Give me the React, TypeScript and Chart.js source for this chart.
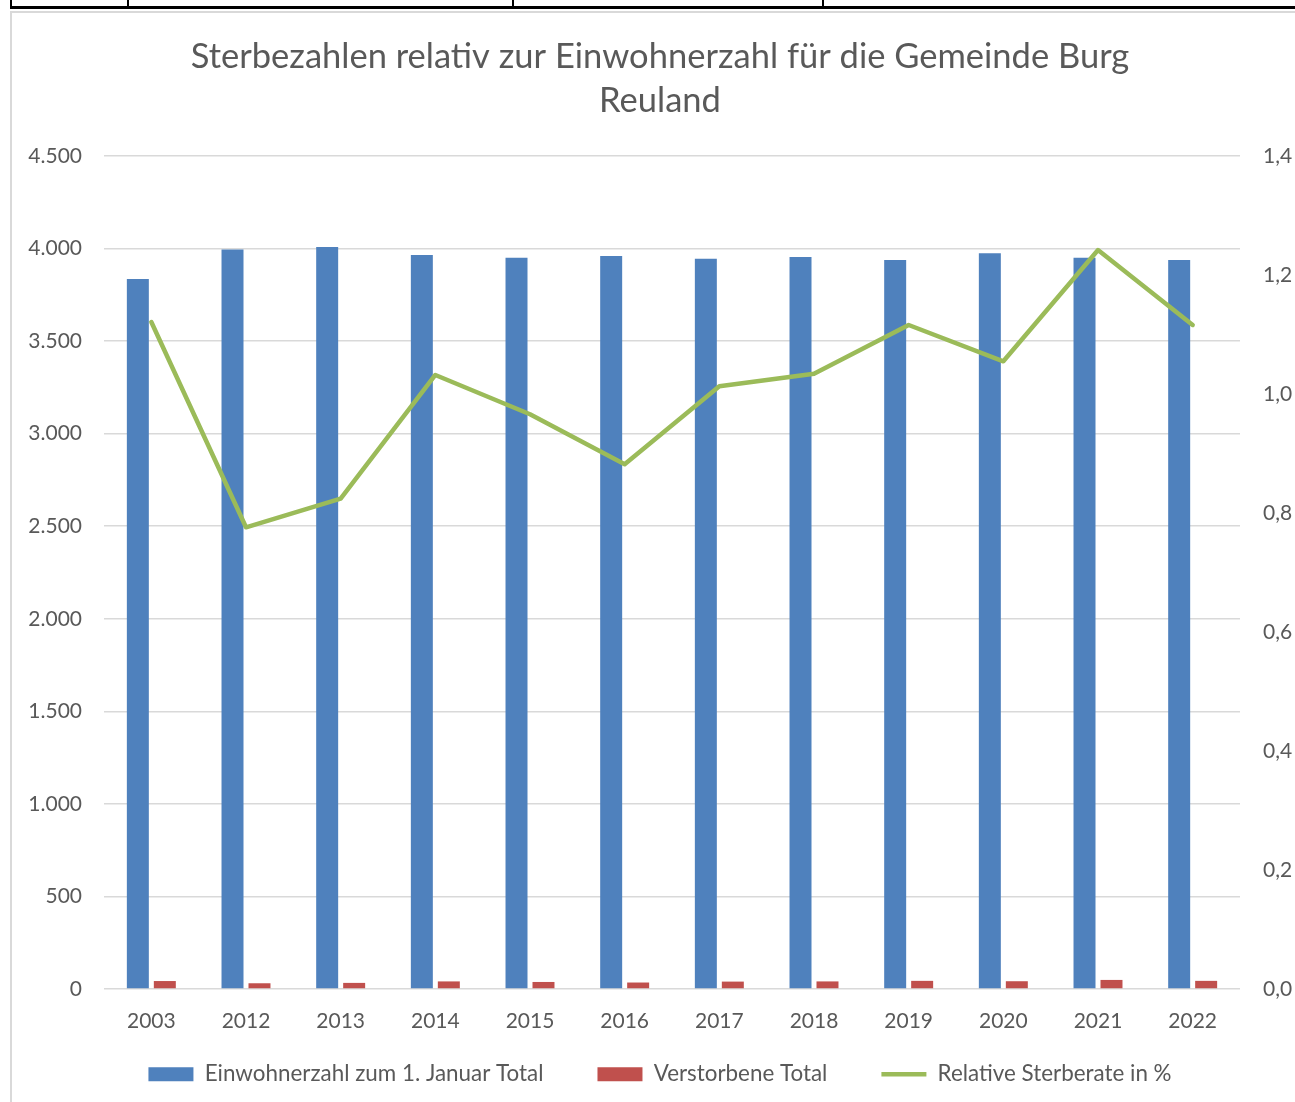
import { useEffect, useRef } from 'react';
import { Chart, registerables } from 'chart.js';

Chart.register(...registerables);

const categories = ['2003', '2012', '2013', '2014', '2015', '2016', '2017', '2018', '2019', '2020', '2021', '2022'];
const population = [3836, 3995, 4008, 3965, 3950, 3960, 3945, 3955, 3938, 3975, 3950, 3938];
const deaths = [43, 31, 33, 41, 38, 35, 40, 41, 44, 42, 49, 44];
const rate = [1.121, 0.776, 0.824, 1.032, 0.966, 0.882, 1.013, 1.034, 1.116, 1.055, 1.242, 1.116];

const titleLines = ['Sterbezahlen relativ zur Einwohnerzahl für die Gemeinde Burg', 'Reuland'];
const seriesNames = ['Einwohnerzahl zum 1. Januar Total', 'Verstorbene Total', 'Relative Sterberate in %'];

const TEXT = '#595959';
const FONT = 'Lato';

function fmtThousands(v: number) {
  const s = Math.round(v).toString();
  return s.replace(/\B(?=(\d{3})+(?!\d))/g, '.');
}

// moves the top of the bottom legend up so its row sits closer to the axis labels
const legendShift = {
  id: 'legendShift',
  afterLayout(chart: any) {
    const lg = chart.legend;
    if (lg) {
      lg.top -= 26;
      lg.height += 26;
    }
  },
};

export default function App() {
  const ref = useRef<HTMLCanvasElement>(null);

  useEffect(() => {
    if (!ref.current) return;
    const chart = new Chart(ref.current, {
      type: 'bar',
      plugins: [legendShift],
      data: {
        labels: categories,
        datasets: [
          {
            type: 'bar',
            label: seriesNames[0],
            data: population,
            backgroundColor: '#4F81BD',
            borderWidth: 0,
            yAxisID: 'y',
            order: 2,
            pointStyle: 'rect',
          } as any,
          {
            type: 'bar',
            label: seriesNames[1],
            data: deaths,
            backgroundColor: '#C0504D',
            borderWidth: 0,
            yAxisID: 'y',
            order: 2,
            pointStyle: 'rect',
          } as any,
          {
            type: 'line',
            label: seriesNames[2],
            data: rate,
            borderColor: '#9BBB59',
            backgroundColor: '#9BBB59',
            borderWidth: 4.5,
            pointRadius: 0,
            pointHoverRadius: 0,
            tension: 0,
            borderJoinStyle: 'round',
            borderCapStyle: 'round',
            yAxisID: 'y1',
            order: 1,
            pointStyle: 'line',
          } as any,
        ],
      },
      options: {
        responsive: false,
        animation: false,
        layout: { padding: { left: 13, right: 0, top: 0, bottom: 0 } },
        datasets: {
          bar: { categoryPercentage: 0.57, barPercentage: 0.815 },
        },
        scales: {
          x: {
            grid: { display: false },
            border: { display: false },
            ticks: { color: TEXT, font: { family: FONT, size: 21 }, padding: 12, maxRotation: 0 },
            afterFit: (s: any) => { s.height = 46; },
          },
          y: {
            position: 'left',
            min: 0,
            max: 4500,
            grid: { color: '#d9d9d9', lineWidth: 1.5, drawTicks: false },
            border: { display: false },
            ticks: {
              stepSize: 500,
              color: TEXT,
              font: { family: FONT, size: 21 },
              padding: 22,
              callback: (v: any) => fmtThousands(Number(v)),
            },
            afterFit: (s: any) => { s.width = 79; },
          },
          y1: {
            position: 'right',
            min: 0,
            max: 1.4,
            grid: { display: false, drawTicks: false },
            border: { display: false },
            ticks: {
              stepSize: 0.2,
              color: TEXT,
              font: { family: FONT, size: 21 },
              padding: 23,
              callback: (v: any) => Number(v).toFixed(1).replace('.', ','),
            },
            afterFit: (s: any) => { s.width = 55; },
          },
        },
        plugins: {
          tooltip: { enabled: false },
          title: {
            display: true,
            text: titleLines,
            color: TEXT,
            font: { family: FONT, size: 34.5, weight: 'normal', lineHeight: 44 / 34.5 },
            padding: { top: 22, bottom: 33 },
          },
          legend: {
            position: 'bottom',
            maxHeight: 67,
            labels: {
              usePointStyle: true,
              pointStyleWidth: 45,
              boxHeight: 14,
              color: TEXT,
              font: { family: FONT, size: 22.4 },
              padding: 54,
              sort: (a: any, b: any) => a.datasetIndex - b.datasetIndex,
            },
          },
        },
      } as any,
    });
    return () => chart.destroy();
  }, []);

  return (
    <div style={{ position: 'absolute', left: 0, top: 0, width: 1295, height: 1102, overflow: 'hidden', background: '#fff' }}>
      <div style={{ position: 'absolute', left: 10, top: 6, width: 1285, height: 3, background: '#000' }} />
      {[10, 127, 512, 822].map((x) => (
        <div key={x} style={{ position: 'absolute', left: x, top: 0, width: 1.5, height: 6, background: '#000' }} />
      ))}
      <div
        style={{
          position: 'absolute', left: 10, top: 11, width: 1285, height: 1091,
          borderLeft: '2px solid #d9d9d9', borderTop: '2px solid #d9d9d9', boxSizing: 'border-box',
        }}
      />
      <div style={{ position: 'absolute', left: 12, top: 13, width: 1283, height: 1089 }}>
        <canvas ref={ref} width={1283} height={1089} style={{ display: 'block' }} />
      </div>
    </div>
  );
}
